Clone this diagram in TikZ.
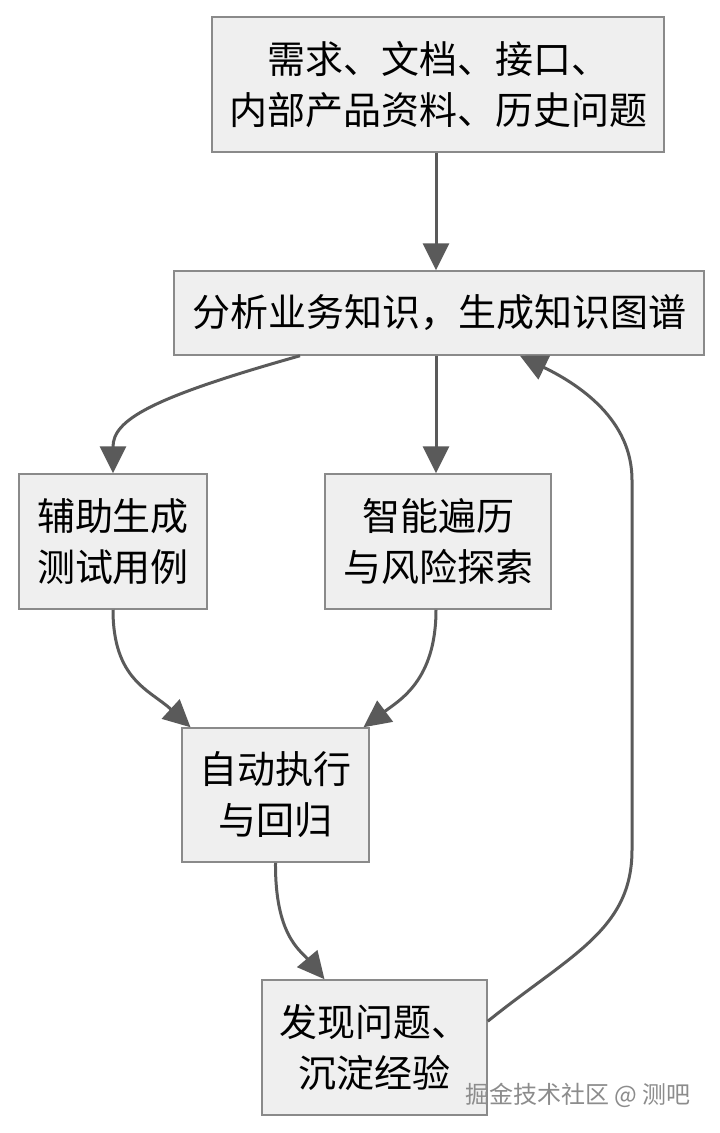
\documentclass[tikz,border=0pt]{standalone}
\usepackage{fontspec}
\newfontfamily\cjk{Noto Sans CJK SC}
\usetikzlibrary{arrows.meta}
\definecolor{boxfill}{HTML}{EFEFEF}
\definecolor{boxline}{HTML}{8A8A8A}
\definecolor{arr}{HTML}{5A5A5A}
\tikzset{
  box/.style={draw=boxline, fill=boxfill, line width=1.5pt, align=center, inner sep=0pt,
    font=\cjk\fontsize{38}{51}\selectfont, text=black},
  conn/.style={draw=arr, line width=3pt, -{Triangle[length=27pt,width=26pt]}}
}
\begin{document}
\begin{tikzpicture}[x=1pt,y=-1pt]
\useasboundingbox (0,0) rectangle (720,1133);
\fill[white] (0,0) rectangle (720,1133);
\node[box, minimum width=452pt, minimum height=135pt] (src) at (438,84.5) {需求、文档、接口、\\内部产品资料、历史问题};
\node[box, minimum width=530pt, minimum height=84pt] (kg) at (439,313) {分析业务知识，生成知识图谱};
\node[box, minimum width=188pt, minimum height=135pt] (tc) at (113,541.5) {辅助生成\\测试用例};
\node[box, minimum width=226pt, minimum height=135pt] (ex) at (438,541.5) {智能遍历\\与风险探索};
\node[box, minimum width=187pt, minimum height=134pt] (run) at (275.5,795) {自动执行\\与回归};
\node[box, minimum width=225pt, minimum height=135pt] (fd) at (374.5,1047.5) {发现问题、\\沉淀经验};
\node[font=\cjk\fontsize{24}{28}\selectfont, text=black!45] (wm) at (578,1095) {掘金技术社区 @ 测吧};
\coordinate (p2) at ([xshift=-139pt]kg.south);
\coordinate (p5) at ([xshift=-2pt]ex.north);
\coordinate (p7) at ([xshift=81pt]kg.south);
\draw[conn] (src.south -| p5) -- (kg.north -| p5);
\draw[conn] (p2) .. controls (150,398) and (113,420) .. (tc.north);
\draw[conn] (kg.south -| p5) -- (p5);
\draw[conn] (tc.south) .. controls (113,680) and (150,690) .. ([xshift=-85pt]run.north);
\draw[conn] (ex.south -| p5) .. controls (436,680) and (400,700) .. ([xshift=88pt]run.north);
\draw[conn] (run.south) .. controls (275,935) and (300,950) .. ([xshift=-50pt]fd.north);
\coordinate (rt) at ([yshift=-42pt]fd.north east);
\draw[conn] (rt) .. controls (570,955) and (632,930) .. (632,850) -- (632,480) .. controls (632,420) and (580,385) .. (p7);
\end{tikzpicture}
\end{document}
